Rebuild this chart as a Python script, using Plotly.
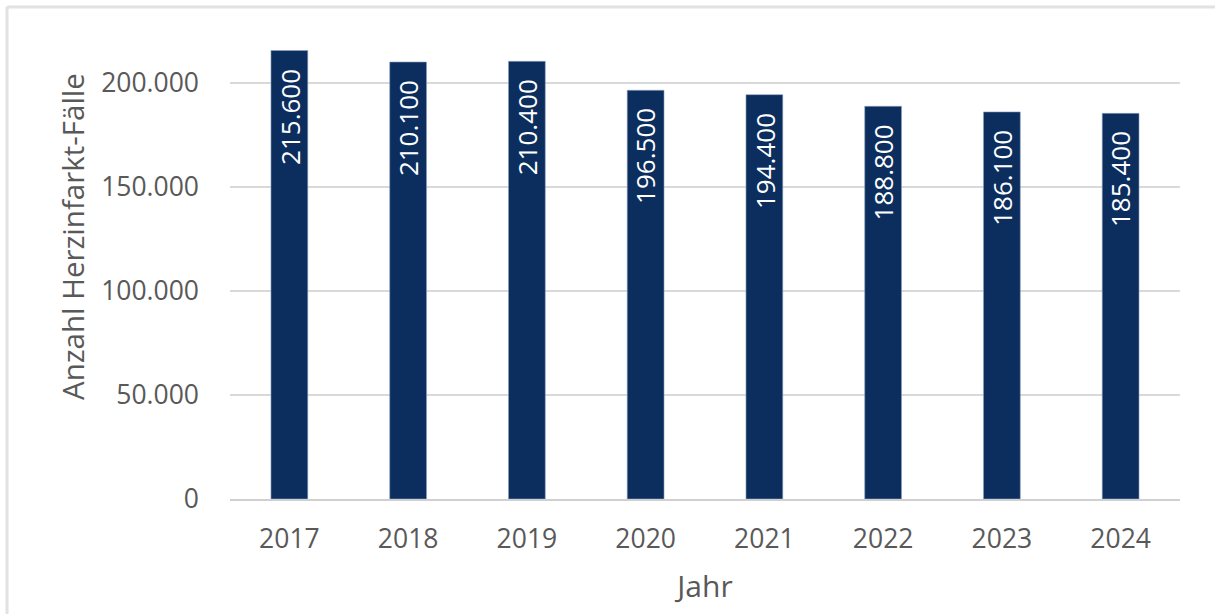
import plotly.graph_objects as go

years = ["2017", "2018", "2019", "2020", "2021", "2022", "2023", "2024"]
cases = [215600, 210100, 210400, 196500, 194400, 188800, 186100, 185400]
y_ticks = [0, 50000, 100000, 150000, 200000]
y_title = "Anzahl Herzinfarkt-Fälle"
x_title = "Jahr"

W, H = 1215, 614
L, R, T, B = 230, 35, 31, 115
pw, ph = W - L - R, H - T - B

FONT = "Open Sans"
GREY = "#595959"
NAVY = "#0B2E5E"


def de(v):
    return f"{v:,}".replace(",", ".")


fig = go.Figure()
fig.add_trace(go.Bar(
    x=years, y=cases, width=0.31,
    marker=dict(color=NAVY, line=dict(color="#8ea3c0", width=0.6)),
    hoverinfo="x+y",
))

# value labels inside the bars (x given as category index)
for i, v in enumerate(cases):
    fig.add_annotation(
        x=i, y=v, xref="x", yref="y", text=de(v), textangle=-90,
        showarrow=False, xanchor="center", yanchor="top", yshift=-16,
        font=dict(family=FONT, size=26, color="white"),
    )

# y-axis title as annotation (pixel placed)
fig.add_annotation(
    x=(72 - L) / pw, y=(H - B - 237) / ph, xref="paper", yref="paper",
    text=y_title, textangle=-90, showarrow=False,
    xanchor="center", yanchor="middle",
    font=dict(family=FONT, size=29.5, color=GREY),
)

# outer light border (top and left)
bx0 = (7 - L) / pw
by_top = (H - B - 7) / ph
fig.add_shape(type="line", xref="paper", yref="paper",
              x0=bx0, x1=(W + 5 - L) / pw, y0=by_top, y1=by_top,
              line=dict(color="#e2e2e2", width=3))
fig.add_shape(type="line", xref="paper", yref="paper",
              x0=bx0, x1=bx0, y0=by_top, y1=(H - B - H - 5) / ph,
              line=dict(color="#e2e2e2", width=3))

fig.update_layout(
    width=W, height=H,
    margin=dict(l=L, r=R, t=T, b=B, autoexpand=False),
    paper_bgcolor="white", plot_bgcolor="white",
    separators=",.",
    showlegend=False,
    font=dict(family=FONT, size=26, color=GREY),
    xaxis=dict(
        type="category",
        categoryorder="array", categoryarray=years,
        range=[-0.5, len(years) - 0.5], autorange=False,
        showline=True, linecolor="#d0d0d0", linewidth=1.5,
        showgrid=False, ticks="",
        tickfont=dict(family=FONT, size=26.5, color=GREY),
        ticklabelstandoff=15,
        title=dict(text=x_title, standoff=21,
                   font=dict(family=FONT, size=30, color=GREY)),
    ),
    yaxis=dict(
        range=[0, 225000], autorange=False,
        tickvals=y_ticks, ticktext=[de(v) for v in y_ticks],
        showgrid=True, gridcolor="#d9d9d9", gridwidth=1.5,
        zeroline=False, showline=False, ticks="",
        ticklabelstandoff=30,
        tickfont=dict(family=FONT, size=26.5, color=GREY),
    ),
)

fig.write_html("out.html", config={"displayModeBar": False},
               post_script="document.body.style.margin='0';")
